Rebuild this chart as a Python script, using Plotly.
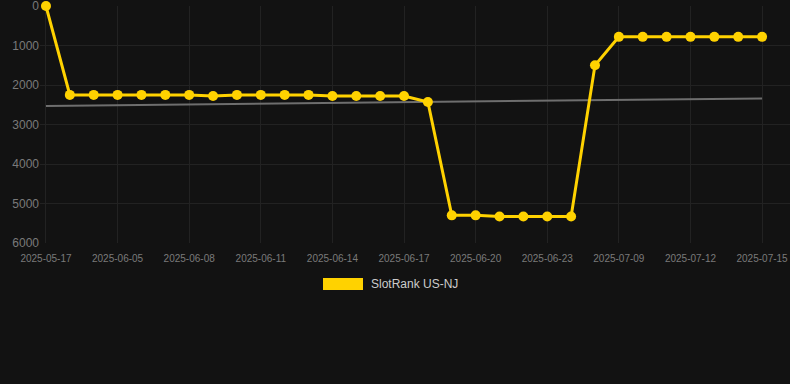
import plotly.graph_objects as go

dates = ["2025-05-17", "2025-06-03", "2025-06-04", "2025-06-05", "2025-06-06", "2025-06-07",
         "2025-06-08", "2025-06-09", "2025-06-10", "2025-06-11", "2025-06-12", "2025-06-13",
         "2025-06-14", "2025-06-15", "2025-06-16", "2025-06-17", "2025-06-18", "2025-06-19",
         "2025-06-20", "2025-06-21", "2025-06-22", "2025-06-23", "2025-07-07", "2025-07-08",
         "2025-07-09", "2025-07-10", "2025-07-11", "2025-07-12", "2025-07-13", "2025-07-14",
         "2025-07-15"]
ranks = [0, 2250, 2250, 2250, 2250, 2250, 2250, 2280, 2250, 2250, 2250, 2250,
         2280, 2280, 2280, 2280, 2430, 5300, 5300, 5330, 5330, 5330, 5330, 1500,
         780, 780, 780, 780, 780, 780, 780]
trend_start, trend_end = 2530, 2340
tick_labels = dates[::3]
y_ticks = [0, 1000, 2000, 3000, 4000, 5000, 6000]
series_name = "SlotRank US-NJ"

bg = "#121212"
gold = "#FFD200"
grid = "#222222"
tickc = "#7a7a7a"

fig = go.Figure()
fig.add_trace(go.Scatter(x=[dates[0], dates[-1]], y=[trend_start, trend_end], mode="lines",
                         line=dict(color="#6e6e6e", width=2), showlegend=False, hoverinfo="skip"))
fig.add_trace(go.Scatter(x=dates, y=ranks, mode="lines+markers", name=series_name,
                         line=dict(color=gold, width=3), marker=dict(color=gold, size=10),
                         cliponaxis=False, showlegend=False))

# legend (manual, Chart.js style box)
fig.add_shape(type="rect", xref="paper", yref="paper", x0=(323-40)/750, x1=(363-40)/750,
              y0=-(278-243)/237, y1=-(290-243)/237, fillcolor=gold, line=dict(width=0))
fig.add_annotation(xref="paper", yref="paper", x=(369-40)/750, y=-(284-243)/237,
                   text=series_name, showarrow=False, xanchor="left", yanchor="middle",
                   font=dict(size=12, color="#cccccc", family="Liberation Sans, Arial"))

fig.update_layout(
    width=790, height=384, paper_bgcolor=bg, plot_bgcolor=bg,
    margin=dict(l=40, r=0, t=6, b=141),
    font=dict(family="Liberation Sans, Arial", color=tickc),
    xaxis=dict(type="category", categoryorder="array", categoryarray=dates,
               range=[-0.25, 31.17], tickvals=tick_labels, ticktext=tick_labels,
               showgrid=True, gridcolor=grid, gridwidth=1, zeroline=False,
               tickfont=dict(size=10, color=tickc), ticks="", showline=False,
               ticklabelstandoff=8, ticklabeloverflow="allow"),
    yaxis=dict(range=[6000, -1], tickvals=y_ticks,
               showgrid=True, gridcolor=grid, gridwidth=1, zeroline=False,
               tickfont=dict(size=12, color=tickc), ticks="", showline=False,
               ticklabeloverflow="allow"),
    showlegend=False,
)
fig.write_html("out.html")
